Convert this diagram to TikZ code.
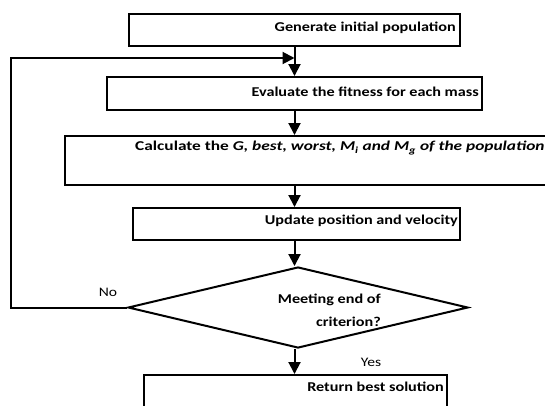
\documentclass[tikz,border=0pt]{standalone}
\usepackage{fontspec}
\setmainfont{Carlito}[FakeStretch=1.2]
\usetikzlibrary{shapes.geometric,arrows.meta}
\tikzstyle{box}=[draw,line width=2pt,inner sep=0pt]
\tikzstyle{decision}=[draw,diamond,line width=2pt,inner sep=0pt]
\tikzstyle{txt}=[font=\fontsize{13.5}{23}\selectfont\bfseries,inner sep=0pt]
\tikzstyle{flow}=[line width=2pt,-{Triangle[length=12pt,width=12pt]}]

\begin{document}
\begin{tikzpicture}[x=1pt,y=-1pt]
\useasboundingbox (0,0) rectangle (545,405);
\node[box,minimum width=331pt,minimum height=32pt] at (294.5,30) (gen) {};
\node[box,minimum width=375pt,minimum height=33pt] at (294.5,93.5) (eval) {};
\node[box,minimum width=490pt,minimum height=49pt] at (310,160.5) (calc) {};
\node[box,minimum width=327pt,minimum height=32pt] at (296.5,224) (upd) {};
\node[decision,minimum width=340pt,minimum height=81pt] at (298,307.5) (test) {};
\node[box,minimum width=303pt,minimum height=32pt] at (295.5,391) (best) {};
\node[txt,anchor=east] at (456,28) (gentxt) {Generate initial population};
\node[txt,anchor=east] at (479,92) (evaltxt) {Evaluate the fitness for each mass};
\node[txt,anchor=west] at (135,148) (calctxt) {\scalebox{1.07}[1]{Calculate the \textit{G, best, worst, M\textsubscript{i} and M\textsubscript{g} of the population}}};
\node[txt,anchor=east] at (458,221) (updtxt) {Update position and velocity};
\node[txt,anchor=east,align=right] at (381,310) (testtxt) {Meeting end of\\criterion?};
\node[txt,anchor=east] at (444,387) (besttxt) {Return best solution};
\node[font=\fontsize{13}{15}\selectfont,inner sep=0pt] at (108,292) (no) {No};
\node[font=\fontsize{13}{15}\selectfont,inner sep=0pt] at (371,362) (yes) {Yes};
\coordinate (back) at (11,58);
\draw[flow] (gen.south) -- (eval.north);
\draw[flow] (eval.south) -- (eval.south |- calc.north);
\draw[flow] (calc.south -| eval.south) -- (eval.south |- upd.north);
\draw[flow] (upd.south -| eval.south) -- (eval.south |- test.north);
\draw[flow] (test.south -| eval.south) -- (eval.south |- best.north);
\draw[flow] (test.west) -- (test.west -| back) -- (back) -- (gen.south |- back);
\end{tikzpicture}
\end{document}
